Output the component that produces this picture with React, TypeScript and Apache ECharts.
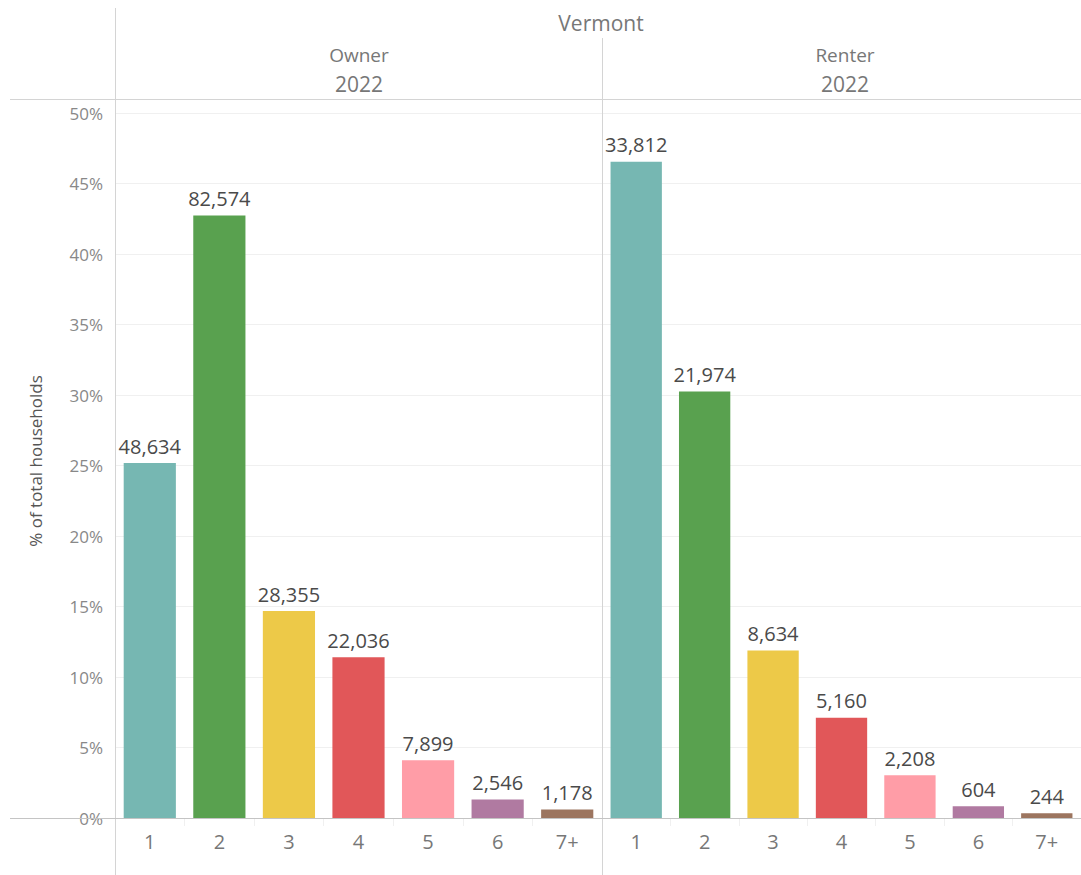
import React, { useEffect, useRef } from "react";
import * as echarts from "echarts";

const categories = ["1", "2", "3", "4", "5", "6", "7+"];
const ownerCounts = [48634, 82574, 28355, 22036, 7899, 2546, 1178];
const renterCounts = [33812, 21974, 8634, 5160, 2208, 604, 244];
const colors = ["#76b7b2", "#59a14f", "#edc948", "#e15759", "#ff9da7", "#b07aa1", "#9c755f"];
const yTicks = [0, 0.05, 0.1, 0.15, 0.2, 0.25, 0.3, 0.35, 0.4, 0.45, 0.5];

const FONT = "Open Sans";

function share(counts: number[]) {
  const total = counts.reduce((a, b) => a + b, 0);
  return counts.map((c) => c / total);
}

export default function App() {
  const ref = useRef<HTMLDivElement>(null);
  useEffect(() => {
    if (!ref.current) return;
    const chart = echarts.init(ref.current, null, { renderer: "svg" });
    const ownerShare = share(ownerCounts);
    const renterShare = share(renterCounts);
    const mkSeries = (idx: number, shares: number[], counts: number[]) => ({
      type: "bar",
      xAxisIndex: idx,
      yAxisIndex: idx,
      barWidth: "75%",
      data: shares.map((v, i) => ({ value: v, itemStyle: { color: colors[i] } })),
      label: {
        show: true,
        position: "top",
        distance: 7,
        fontFamily: FONT,
        fontSize: 20,
        color: "#4a4a4a",
        formatter: (p: any) => counts[p.dataIndex].toLocaleString("en-US"),
      },
    });
    const yAxisBase = (idx: number) => ({
      type: "value",
      gridIndex: idx,
      min: 0,
      max: 0.5,
      interval: 0.05,
      axisLine: { show: false },
      axisTick: { show: false },
      splitLine: { show: true, lineStyle: { color: "#f0f0f0", width: 1 } },
      axisLabel: {
        show: idx === 0,
        fontFamily: FONT,
        fontSize: 17,
        color: "#888",
        margin: 12,
        formatter: (v: number) => {
          const m = yTicks.find((t) => Math.abs(t - v) < 1e-9);
          return Math.round((m ?? v) * 100) + "%";
        },
      },
    });
    const xAxisBase = (idx: number) => ({
      type: "category",
      gridIndex: idx,
      data: categories,
      axisLine: { show: false },
      axisTick: { show: true, length: 8, lineStyle: { color: "#f0f0f0" } },
      axisLabel: { fontFamily: FONT, fontSize: 20, color: "#777", margin: 13 },
    });
    const line = (x1: number, y1: number, x2: number, y2: number, color: string) => ({
      type: "line",
      shape: { x1, y1, x2, y2 },
      style: { stroke: color, lineWidth: 1 },
      z: 10,
    });
    const text = (x: number, y: number, t: string, size: number) => ({
      type: "text",
      x,
      y,
      style: {
        text: t,
        fontFamily: FONT,
        fontSize: size,
        fill: "#777",
        align: "center",
        verticalAlign: "middle",
      },
    });
    chart.setOption({
      animation: false,
      backgroundColor: "#fff",
      grid: [
        { left: 115, top: 113, width: 487, height: 705 },
        { left: 602, top: 113, width: 479, height: 705 },
      ],
      xAxis: [xAxisBase(0), xAxisBase(1)],
      yAxis: [yAxisBase(0), yAxisBase(1)],
      series: [mkSeries(0, ownerShare, ownerCounts), mkSeries(1, renterShare, renterCounts)],
      graphic: [
        line(115.5, 8, 115.5, 875, "#d4d4d4"),
        line(602.5, 38, 602.5, 875, "#d4d4d4"),
        line(10, 99.5, 1081, 99.5, "#d4d4d4"),
        line(10, 818.5, 1081, 818.5, "#c4c4c4"),
        text(601, 23, "Vermont", 21),
        text(359, 55, "Owner", 19),
        text(359, 84, "2022", 21),
        text(845, 55, "Renter", 19),
        text(845, 84, "2022", 21),
        {
          type: "text",
          x: 35,
          y: 461,
          rotation: Math.PI / 2,
          style: {
            text: "% of total households",
            fontFamily: FONT,
            fontSize: 17,
            fill: "#555",
            align: "center",
            verticalAlign: "middle",
          },
        },
      ],
    });
    return () => chart.dispose();
  }, []);
  return (
    <div
      ref={ref}
      style={{ position: "fixed", left: 0, top: 0, width: 1081, height: 875 }}
    />
  );
}
